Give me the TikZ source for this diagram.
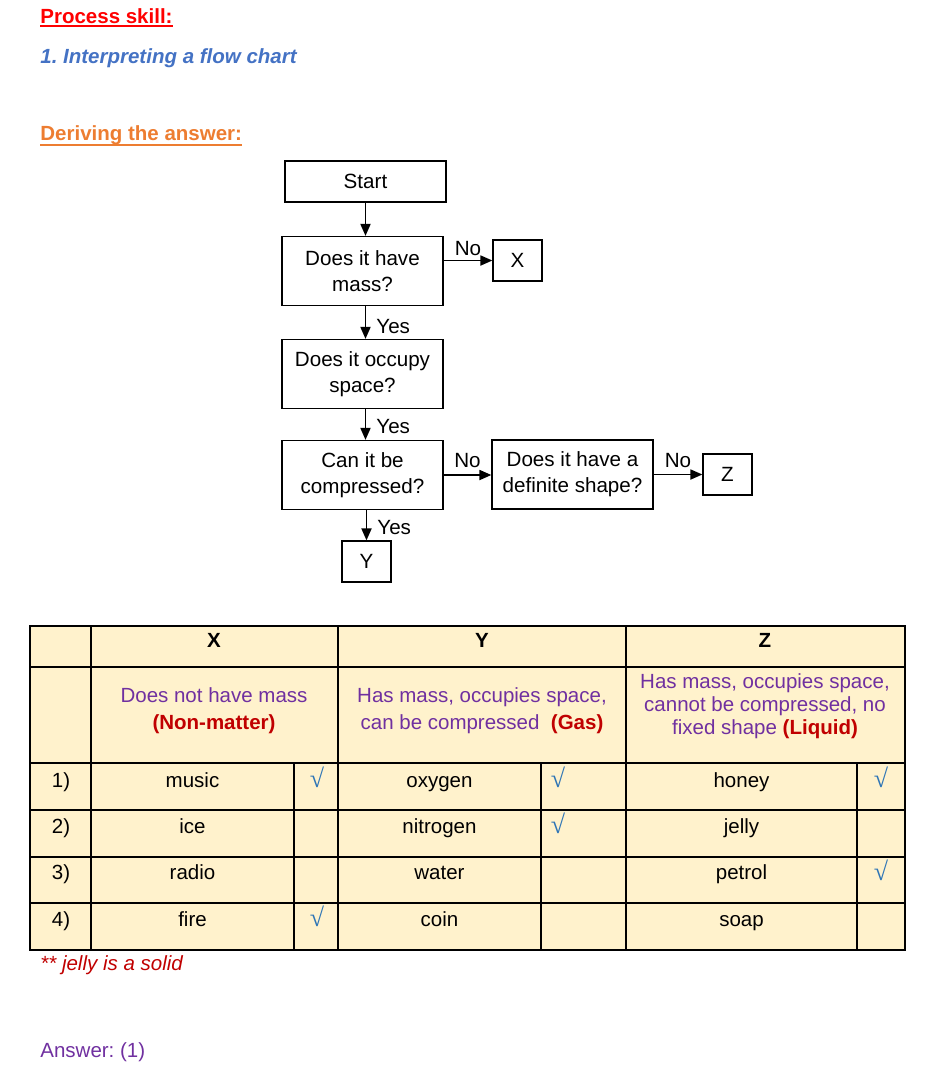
\documentclass[tikz,border=0pt]{standalone}
\usepackage{fontspec}
\setmainfont{Liberation Sans}
\newfontfamily\tickfont{Liberation Serif}
\usetikzlibrary{positioning,arrows.meta,calc}
\definecolor{headred}{HTML}{FF0000}
\definecolor{headblue}{HTML}{4472C4}
\definecolor{headorange}{HTML}{ED7D31}
\definecolor{cellfill}{HTML}{FFF2CC}
\definecolor{descpurple}{HTML}{7030A0}
\definecolor{keyred}{HTML}{C00000}
\definecolor{tickblue}{HTML}{2E75B6}
\frenchspacing

\begin{document}
\begin{tikzpicture}[x=0.5pt,y=-0.5pt,
  every node/.style={font=\fontsize{10.25}{12.5}\selectfont,inner sep=0pt},
  qbox/.style={draw,line width=0.6pt,align=center,minimum width=80.5pt,minimum height=34.5pt,font=\fontsize{10.3}{13}\selectfont},
  endbox/.style={draw,line width=0.6pt,minimum width=24.5pt,minimum height=20.5pt,font=\fontsize{10.3}{13}\selectfont},
  flow/.style={-{Triangle[length=6pt,width=5pt]},line width=0.9pt},
  lab/.style={font=\fontsize{10.3}{13}\selectfont},
  grid/.style={line width=0.6pt},
  chk/.style={text=tickblue,font=\tickfont\fontsize{13}{13}\selectfont}]
  \useasboundingbox (0,0) rectangle (931,1073);

  % headings
  \node[anchor=base west,text=headred,font=\fontsize{10.25}{12}\selectfont\bfseries] (skill) at (40,23) {Process skill:};
  \draw[headred,line width=1.1pt] ([yshift=-1.6pt]skill.base west) -- ([yshift=-1.6pt]skill.base east);
  \node[anchor=base west,text=headblue,font=\fontsize{10.25}{12}\selectfont\bfseries\itshape] (chart) at (40,63) {1. Interpreting a flow chart};
  \node[anchor=base west,text=headorange,font=\fontsize{10.25}{12}\selectfont\bfseries] (derive) at (40,140) {Deriving the answer:};
  \draw[headorange,line width=1.1pt] ([yshift=-2.4pt]derive.base west) -- ([yshift=-2.4pt]derive.base east);

  % flow chart
  \node[qbox,minimum height=20.5pt] (start) at (365.5,181.5) {Start};
  \node[qbox] (mass) at (362.5,271) {Does it have\\mass?};
  \node[endbox] (xbox) at (517.5,260.5) {X};
  \node[qbox] (space) at (362.5,374) {Does it occupy\\space?};
  \node[qbox] (press) at (362.5,475) {Can it be\\compressed?};
  \node[qbox] (shape) at (572.5,474.5) {Does it have a\\definite shape?};
  \node[endbox] (zbox) at (727.5,474.5) {Z};
  \node[endbox] (ybox) at (366.5,561.5) {Y};

  \draw[flow] (start.south) -- (start.south |- mass.north);
  \draw[flow] (start.south |- mass.south) -- (start.south |- space.north) node[lab,midway,right=5pt,yshift=-2pt] {Yes};
  \draw[flow] (start.south |- space.south) -- (start.south |- press.north) node[lab,midway,right=5pt,yshift=-1pt] {Yes};
  \draw[flow] (ybox.north |- press.south) -- (ybox.north) node[lab,midway,right=5pt,yshift=-1pt] {Yes};
  \draw[flow] (mass.east |- xbox) -- (xbox.west) node[lab,midway,above=2pt] {No};
  \draw[flow] (press.east) -- (press.east -| shape.west) node[lab,midway,above=3pt] {No};
  \draw[flow] (shape.east) -- (shape.east -| zbox.west) node[lab,midway,above=3pt] {No};

  % table
  \fill[cellfill] (30,626) rectangle (905,950);
  \draw[grid] (30,626) rectangle (905,950);
  \foreach \y in {667,763,810,857,903}
    \draw[grid] (30,\y) -- (905,\y);
  \foreach \x in {91,338,626}
    \draw[grid] (\x,626) -- (\x,950);
  \foreach \x in {294,541,857}
    \draw[grid] (\x,763) -- (\x,950);

  \node[anchor=base,font=\fontsize{10.25}{12}\selectfont\bfseries] (hx) at (214,647) {X};
  \node[anchor=base,font=\fontsize{10.25}{12}\selectfont\bfseries] (hy) at (482,647) {Y};
  \node[anchor=base,font=\fontsize{10.25}{12}\selectfont\bfseries] (hz) at (765,647) {Z};

  \node[align=center,text=descpurple,font=\fontsize{10.25}{13.5}\selectfont] (dx) at (214,711)
    {Does not have mass\\\textcolor{keyred}{\bfseries(Non-matter)}};
  \node[align=center,text=descpurple,font=\fontsize{10.25}{13.5}\selectfont] (dy) at (482,711)
    {Has mass, occupies space,\\can be compressed\ \ \textcolor{keyred}{\bfseries(Gas)}};
  \node[align=center,text=descpurple,font=\fontsize{10.25}{11.5}\selectfont] (dz) at (765,706)
    {Has mass, occupies space,\\cannot be compressed, no\\fixed shape \textcolor{keyred}{\bfseries(Liquid)}};

  \foreach \n/\a/\b/\c [count=\i] in {1)/music/oxygen/honey,2)/ice/nitrogen/jelly,3)/radio/water/petrol,4)/fire/coin/soap}{
    \node[anchor=base] (num\i) at (61,{787+46.4*(\i-1)}) {\n};
    \node[anchor=base] (xa\i) at (192.5,{787+46.4*(\i-1)}) {\a};
    \node[anchor=base] (ya\i) at (439.5,{787+46.4*(\i-1)}) {\b};
    \node[anchor=base] (za\i) at (741.5,{787+46.4*(\i-1)}) {\c};
  }
  \node[chk,anchor=base] (cx1) at (317,787) {√};
  \node[chk,anchor=base] (cx4) at (317,926) {√};
  \node[chk,anchor=base] (cy1) at (558,787) {√};
  \node[chk,anchor=base] (cy2) at (558,833) {√};
  \node[chk,anchor=base] (cz1) at (881,787) {√};
  \node[chk,anchor=base] (cz3) at (881,880) {√};

  % notes
  \node[anchor=base west,text=keyred,font=\fontsize{10.25}{12}\selectfont\itshape] (note) at (40,970) {** jelly is a solid};
  \node[anchor=base west,text=descpurple] (answer) at (40,1057) {Answer: (1)};
\end{tikzpicture}
\end{document}
